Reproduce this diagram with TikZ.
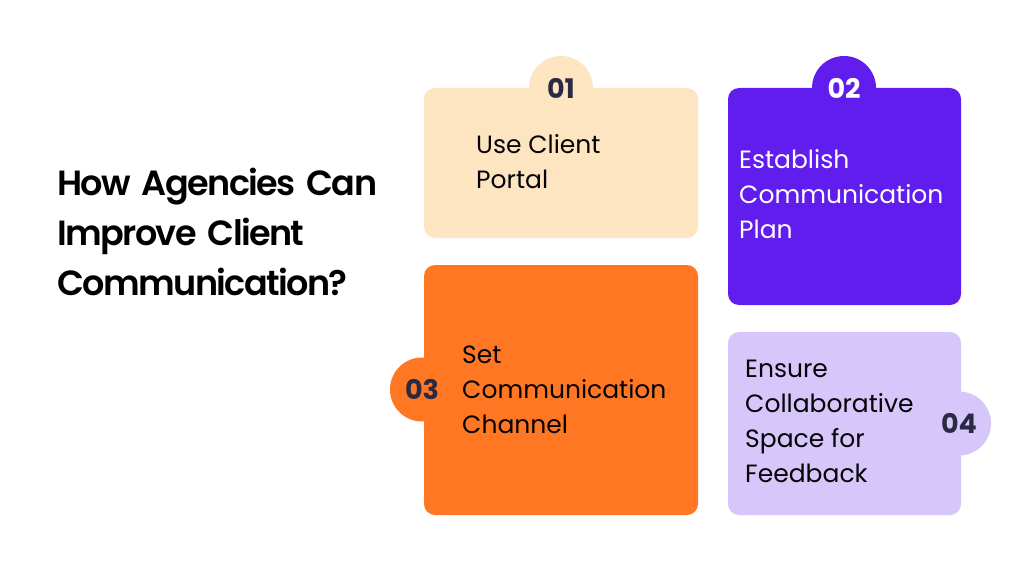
\documentclass[tikz,border=0pt]{standalone}
\usepackage{fontspec}
\setmainfont{Poppins}
\newfontfamily\semi[LetterSpace=-4.5,WordSpace=1.6]{Poppins SemiBold}
\definecolor{cream}{HTML}{FEE5C1}
\definecolor{violet}{HTML}{601DED}
\definecolor{orangeb}{HTML}{FF7722}
\definecolor{lilac}{HTML}{D7C6FA}
\definecolor{inkn}{HTML}{2B2A45}
\begin{document}
\begin{tikzpicture}[x=1pt,y=-1pt,
  card/.style={rounded corners=11pt,inner sep=0pt,draw=none},
  badge/.style={circle,minimum size=64pt,inner sep=0pt},
  num/.style={font=\fontsize{27}{27}\selectfont\bfseries,text=inkn},
  body/.style={align=left,anchor=north west,inner sep=0pt,text=black!90!inkn,font=\fontsize{25}{35}\selectfont},
  ttl/.style={align=left,anchor=north west,inner sep=0pt,font=\fontsize{35}{50.4}\selectfont\semi}]
\useasboundingbox (0,0) rectangle (1024,561);
\fill[white] (0,0) rectangle (1024,561);
\node[badge,fill=cream] (b1) at (561,88) {};
\node[badge,fill=violet] (b2) at (844,88) {};
\node[badge,fill=orangeb] (b3) at (422,389.5) {};
\node[badge,fill=lilac] (b4) at (959,423.5) {};
\fill[card,cream] (424,88) rectangle (698,238);
\fill[card,violet] (728,88) rectangle (961,305);
\fill[card,orangeb] (424,265) rectangle (698,515);
\fill[card,lilac] (728,332) rectangle (961,515);
\node[num] (n1) at (561,88) {01};
\node[num,text=white] (n2) at (844,88) {02};
\node[num] (n3) at (422,389.5) {03};
\node[num] (n4) at (959,423.5) {04};
\node[body] (t1) at (476,134.5) {Use Client\\Portal};
\node[body,text=white] (t2) at (739,149.5) {Establish\\Communication\\Plan};
\node[body] (t3) at (462,345.5) {Set\\Communication\\Channel};
\node[body] (t4) at (745,360) {Ensure\\Collaborative\\Space for\\Feedback};
\node[ttl] (title) at (57,167.5) {How Agencies Can\\Improve Client\\Communication?};
\end{tikzpicture}
\end{document}
